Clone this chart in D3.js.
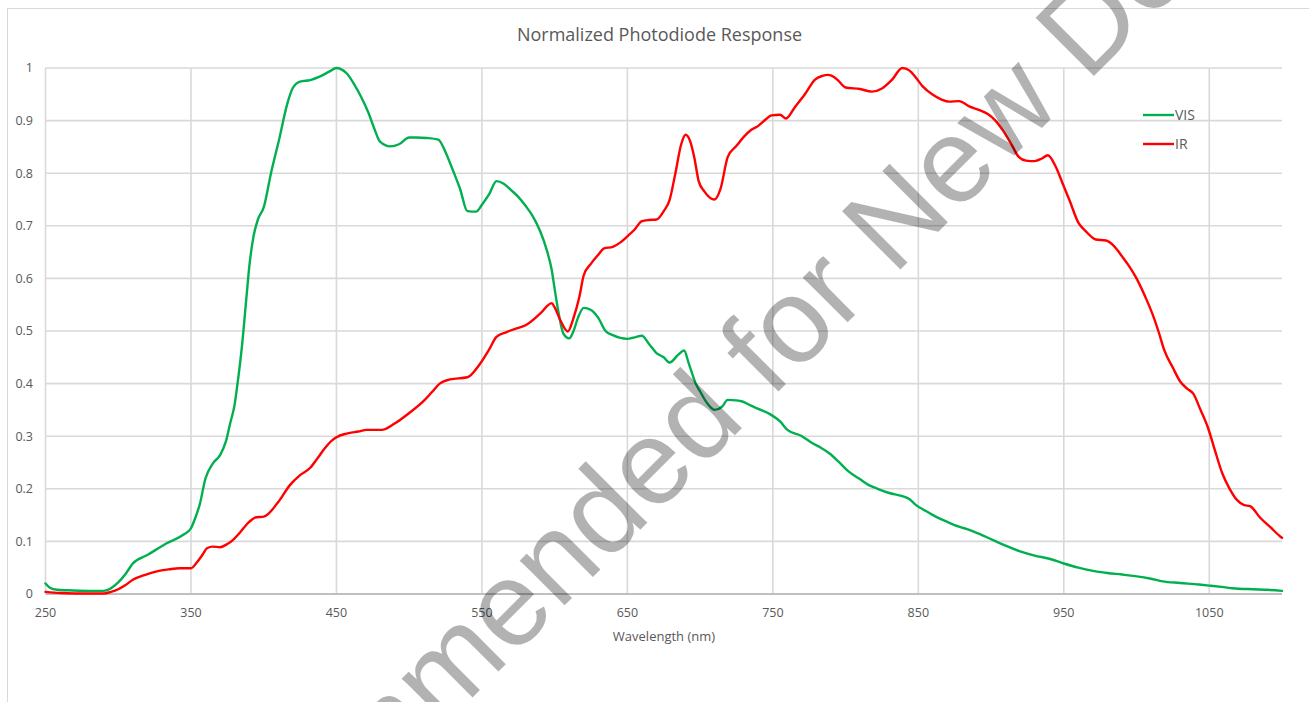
<!DOCTYPE html>
<html>
<head>
<meta charset="utf-8">
<script src="https://cdn.jsdelivr.net/npm/d3@7"></script>
<style>
  html, body { margin: 0; padding: 0; background: #fff; }
  svg { display: block; }
</style>
</head>
<body>
<svg id="chart" width="1309" height="702"></svg>
<script>
const titleText = "Normalized Photodiode Response";
const xAxisTitle = "Wavelength (nm)";
const xTicks = [250, 350, 450, 550, 650, 750, 850, 950, 1050];
const yTicks = [0, 0.1, 0.2, 0.3, 0.4, 0.5, 0.6, 0.7, 0.8, 0.9, 1];
const seriesNames = ["VIS", "IR"];
const seriesColors = ["#00b050", "#ff0000"];
const watermarkText = "Not Recommended for New Designs";

const visWl = [250,253,258,265,280,290,300,305,310,320,333,345,350,353,356,360,365,370,374,377,380,382,385,388,390,393,396,400,405,411,416,420,425,432,438,445,450,453,457,462,467,472,476,480,487,493,500,505,512,520,525,530,535,540,546,550,555,560,565,570,575,580,585,590,595,598,600,603,606,610,613,616,620,625,630,635,640,650,655,660,665,670,675,679,685,689,692,695,697,700,705,710,715,719,725,729,735,740,748,755,760,770,777,783,789,795,802,810,816,822,830,839,844,848,855,862,870,878,885,893,901,910,920,930,940,950,960,970,980,990,999,1010,1018,1030,1043,1050,1060,1066,1080,1090,1100];
const visVal = [0.02,0.012,0.008,0.007,0.006,0.006,0.022,0.038,0.058,0.074,0.096,0.113,0.125,0.145,0.17,0.22,0.248,0.264,0.29,0.325,0.36,0.4,0.47,0.56,0.62,0.68,0.712,0.735,0.8,0.869,0.93,0.962,0.974,0.977,0.983,0.993,1.0,0.998,0.99,0.97,0.945,0.915,0.885,0.86,0.851,0.855,0.868,0.868,0.867,0.864,0.84,0.806,0.77,0.728,0.727,0.74,0.76,0.785,0.78,0.768,0.755,0.738,0.718,0.69,0.65,0.616,0.58,0.53,0.495,0.486,0.5,0.525,0.544,0.54,0.525,0.5,0.492,0.485,0.488,0.491,0.475,0.458,0.45,0.44,0.455,0.463,0.44,0.415,0.4,0.385,0.362,0.35,0.356,0.369,0.368,0.366,0.358,0.352,0.342,0.328,0.312,0.3,0.287,0.278,0.267,0.252,0.233,0.218,0.207,0.2,0.192,0.186,0.18,0.17,0.158,0.147,0.137,0.128,0.122,0.113,0.103,0.092,0.081,0.073,0.067,0.058,0.05,0.044,0.04,0.037,0.034,0.029,0.024,0.021,0.018,0.016,0.013,0.011,0.009,0.008,0.006];

const irWl = [250,260,280,290,295,300,305,310,318,328,335,342,350,354,358,361,365,370,375,379,384,390,395,400,410,418,425,432,437,442,447,450,457,465,471,481,490,500,510,516,521,528,540,548,555,560,567,575,580,590,598,600,604,609,613,617,620,625,630,634,640,645,650,655,660,665,670,675,679,683,687,690,693,696,699,703,710,714,719,725,730,735,740,745,749,755,759,765,772,779,784,788,792,795,800,810,818,825,832,839,844,848,853,860,866,871,878,885,892,898,903,908,914,919,924,930,935,939,944,949,954,960,965,972,979,985,990,995,1000,1006,1011,1015,1019,1025,1030,1035,1039,1044,1049,1054,1059,1064,1069,1074,1078,1085,1092,1099,1100];
const irVal = [0.004,0.002,0.001,0.001,0.004,0.009,0.017,0.027,0.036,0.044,0.047,0.049,0.049,0.06,0.075,0.087,0.09,0.089,0.095,0.103,0.118,0.137,0.146,0.147,0.175,0.207,0.226,0.24,0.258,0.277,0.292,0.298,0.305,0.309,0.312,0.312,0.324,0.344,0.367,0.385,0.4,0.408,0.412,0.435,0.465,0.489,0.498,0.506,0.511,0.533,0.553,0.545,0.52,0.499,0.525,0.565,0.606,0.628,0.645,0.657,0.66,0.668,0.68,0.693,0.709,0.711,0.712,0.728,0.749,0.8,0.855,0.873,0.862,0.83,0.785,0.765,0.75,0.77,0.831,0.852,0.869,0.882,0.89,0.902,0.91,0.911,0.904,0.925,0.95,0.978,0.985,0.987,0.983,0.976,0.963,0.96,0.955,0.961,0.978,1.0,0.995,0.983,0.965,0.949,0.94,0.936,0.937,0.927,0.92,0.912,0.9,0.882,0.855,0.831,0.824,0.823,0.828,0.834,0.815,0.782,0.748,0.706,0.69,0.674,0.672,0.66,0.642,0.623,0.6,0.565,0.532,0.5,0.464,0.43,0.404,0.39,0.381,0.35,0.317,0.272,0.229,0.2,0.179,0.169,0.167,0.145,0.127,0.109,0.107];

const svg = d3.select("#chart");
const FONT = "'Open Sans', 'Noto Sans', sans-serif";
const TXT = "#595959";

// chart area border
svg.append("rect").attr("x", 7.5).attr("y", 8.5).attr("width", 1400).attr("height", 800)
  .attr("fill", "#fff").attr("stroke", "#d9d9d9").attr("stroke-width", 1);

const plot = { left: 45.5, right: 1282, top: 68, bottom: 594 };
const x = d3.scaleLinear().domain([250, 1100]).range([plot.left, plot.right]);
const y = d3.scaleLinear().domain([0, 1]).range([plot.bottom, plot.top]);

// horizontal gridlines
svg.append("g").selectAll("line").data(yTicks.filter(d => d > 0)).join("line")
  .attr("x1", plot.left).attr("x2", plot.right)
  .attr("y1", d => y(d)).attr("y2", d => y(d))
  .attr("stroke", "#d9d9d9").attr("stroke-width", 1.6);
// vertical gridlines
svg.append("g").selectAll("line").data(xTicks).join("line")
  .attr("x1", d => x(d)).attr("x2", d => x(d))
  .attr("y1", plot.top).attr("y2", plot.bottom)
  .attr("stroke", "#d9d9d9").attr("stroke-width", 1.6);
// x axis line
svg.append("line").attr("x1", plot.left).attr("x2", plot.right)
  .attr("y1", plot.bottom).attr("y2", plot.bottom)
  .attr("stroke", "#bfbfbf").attr("stroke-width", 1.8);

// y tick labels
svg.append("g").selectAll("text").data(yTicks).join("text")
  .attr("x", 33).attr("y", d => y(d)).attr("dy", "0.35em")
  .attr("text-anchor", "end").attr("font-family", FONT).attr("font-size", 12.5)
  .attr("fill", TXT).text(d => d3.format("~g")(d));
// x tick labels
svg.append("g").selectAll("text").data(xTicks).join("text")
  .attr("x", d => x(d)).attr("y", 613).attr("dy", "0.35em")
  .attr("text-anchor", "middle").attr("font-family", FONT).attr("font-size", 12.5)
  .attr("fill", TXT).text(d => d);

// axis title
svg.append("text").attr("x", 664).attr("y", 636).attr("dy", "0.35em")
  .attr("text-anchor", "middle").attr("font-family", FONT).attr("font-size", 13)
  .attr("fill", TXT).text(xAxisTitle);
// chart title
svg.append("text").attr("x", 659.5).attr("y", 35).attr("dy", "0.35em")
  .attr("text-anchor", "middle").attr("font-family", FONT).attr("font-size", 18)
  .attr("fill", TXT).text(titleText);

// series
const line = d3.line().x(d => x(d[0])).y(d => y(d[1])).curve(d3.curveMonotoneX);
const series = [d3.zip(visWl, visVal), d3.zip(irWl, irVal)];
series.forEach((s, i) => {
  svg.append("path").datum(s).attr("d", line).attr("fill", "none")
    .attr("stroke", seriesColors[i]).attr("stroke-width", 2.4)
    .attr("stroke-linejoin", "round").attr("stroke-linecap", "round");
});

// legend
const lg = svg.append("g");
seriesNames.forEach((n, i) => {
  const ly = 115 + i * 29;
  lg.append("line").attr("x1", 1143).attr("x2", 1174).attr("y1", ly).attr("y2", ly)
    .attr("stroke", seriesColors[i]).attr("stroke-width", 2.4);
  lg.append("text").attr("x", 1175).attr("y", ly).attr("dy", "0.35em")
    .attr("font-family", FONT).attr("font-size", 14).attr("fill", TXT).text(n);
});

// watermark (semi-transparent overlay, cut by the picture edges as in the reference)
const wmSize = 120;
const anchorPt = [870, 300];
const tmp = svg.append("text").attr("font-family", "'Liberation Sans', Arial, sans-serif")
  .attr("font-size", wmSize).text("Not Recommended for ");
const prefixLen = tmp.node().getComputedTextLength();
tmp.remove();
const ang = -45 * Math.PI / 180;
const sx = anchorPt[0] - prefixLen * Math.cos(ang);
const sy = anchorPt[1] - prefixLen * Math.sin(ang);
svg.append("text").attr("x", 0).attr("y", 0)
  .attr("transform", `translate(${sx},${sy}) rotate(-45)`)
  .attr("font-family", "'Liberation Sans', Arial, sans-serif")
  .attr("font-size", wmSize).attr("fill", "#000").attr("fill-opacity", 0.3)
  .text(watermarkText);
</script>
</body>
</html>
